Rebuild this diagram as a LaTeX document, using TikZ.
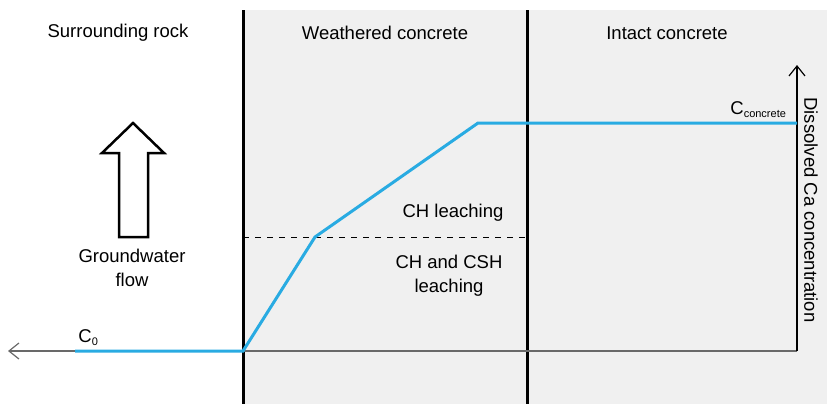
\documentclass[tikz,border=0pt]{standalone}
\usepackage{fontspec}
\setmainfont{Liberation Sans}
\usetikzlibrary{positioning,arrows.meta}

\definecolor{zonegray}{RGB}{240,240,240}
\definecolor{cablue}{RGB}{41,171,226}
\definecolor{axisgray}{RGB}{105,105,105}

\begin{document}
\begin{tikzpicture}[x=0.5pt,y=-0.5pt,
	txt/.style={font=\fontsize{9.25}{11}\selectfont,inner sep=0pt,align=center},
	small/.style={font=\fontsize{5.5}{6}\selectfont,inner sep=0pt},
	border/.style={line width=1.5pt},
	axis/.style={-{Straight Barb[length=5pt,width=8pt]},line width=0.6pt},
	profile/.style={cablue,line width=1.5pt}]
	\useasboundingbox (0,0) rectangle (827,404);
	
	% concrete zones
	\fill[zonegray] (243,10) rectangle (827,404);
	\draw[border] (243,10) -- (243,404);
	\draw[border] (527,10) -- (527,404);
	
	\node[txt](rock) at (118,33){Surrounding rock};
	\node[txt](weath) at (385,33){Weathered concrete};
	\node[txt](intact) at (667,33){Intact concrete};
	
	% axes
	\coordinate(O) at (797,351);
	\coordinate(xend) at (8,351);
	\coordinate(yend) at (797,65);
	\draw[axis,axisgray] (O) -- (xend);
	\draw[axis] (O) -- (yend);
	\node[txt,rotate=-90](ylab) at (811,210){Dissolved Ca concentration};
	
	% leaching front
	\coordinate(f1) at (243,237);
	\coordinate(f2) at (527,237);
	\draw[dashed,line width=0.4pt] (f1) -- (f2);
	\node[txt](ch) at (453,213){CH leaching};
	\node[txt](chcsh) at (449,276){CH and CSH\\[1pt]leaching};
	
	% calcium profile
	\coordinate(p0) at (75,351);
	\coordinate(p1) at (243,351);
	\coordinate(p2) at (315,237);
	\coordinate(p3) at (478,123);
	\coordinate(p4) at (797,123);
	\draw[profile] (p0) -- (p1) -- (p2) -- (p3) -- (p4);
	\node[txt,anchor=base west](c0) at (78,342){C\raisebox{-0.35ex}{\fontsize{5.5}{6}\selectfont 0}};
	\node[txt,anchor=base west](cc) at (730,114){C\raisebox{-0.35ex}{\fontsize{5.5}{6}\selectfont concrete}};
	
	% groundwater flow
	\draw[line width=1.25pt] (119,237) -- (119,153) -- (102,153) -- (133,123)
		-- (164,153) -- (148,153) -- (148,237) -- cycle;
	\node[txt](flow) at (132,268){Groundwater\\[1pt]flow};
\end{tikzpicture}
\end{document}
